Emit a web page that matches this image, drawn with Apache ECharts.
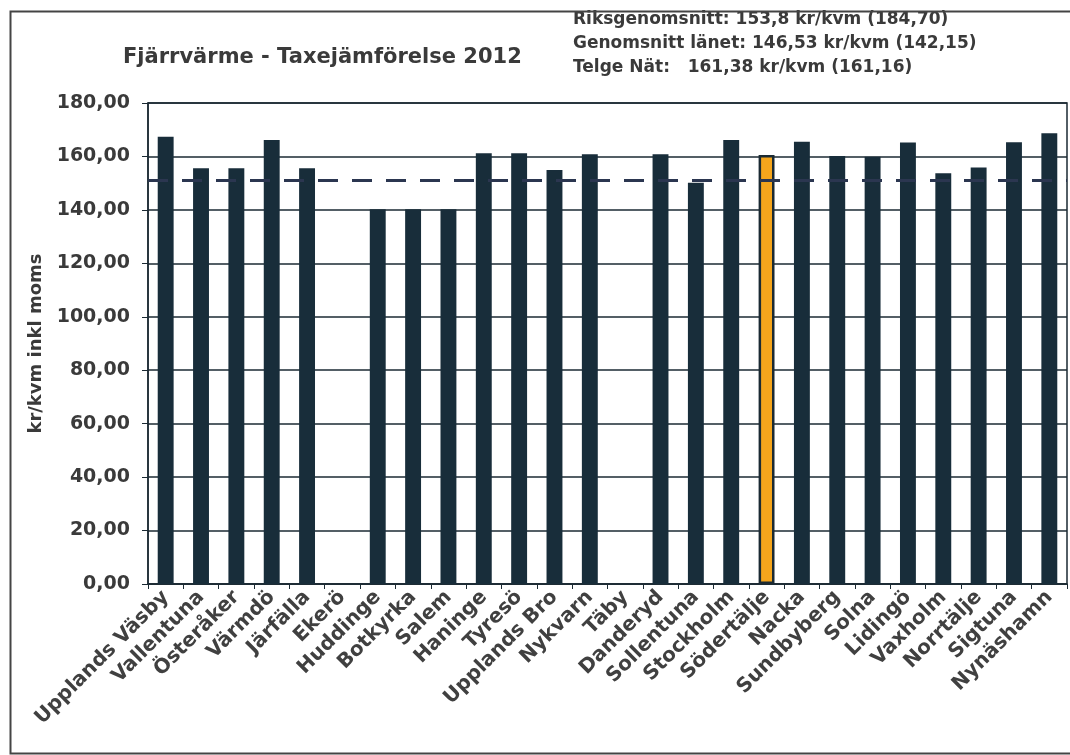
<!DOCTYPE html>
<html>
<head>
<meta charset="utf-8">
<script src="https://cdn.jsdelivr.net/npm/echarts@6/dist/echarts.min.js"></script>
<style>
  html, body { margin: 0; padding: 0; background: #fff; }
  #chart { width: 1070px; height: 755px; }
</style>
</head>
<body>
<div id="chart"></div>
<script>
// kommuner (x-axeln)
var kommuner = ['Upplands Väsby', 'Vallentuna', 'Österåker', 'Värmdö', 'Järfälla', 'Ekerö',
  'Huddinge', 'Botkyrka', 'Salem', 'Haninge', 'Tyresö', 'Upplands Bro', 'Nykvarn', 'Täby',
  'Danderyd', 'Sollentuna', 'Stockholm', 'Södertälje', 'Nacka', 'Sundbyberg', 'Solna',
  'Lidingö', 'Vaxholm', 'Norrtälje', 'Sigtuna', 'Nynäshamn'];
// kr/kvm inkl moms
var taxa = [167.4, 155.6, 155.6, 166.2, 155.6, 0,
  140.2, 140.2, 140.2, 161.2, 161.2, 154.9, 160.8, 0,
  160.8, 150.2, 166.2, 160.5, 165.5, 160.2, 159.9,
  165.2, 153.7, 155.9, 165.3, 168.7];
var markerad = 'Södertälje';
var snittlinje = 151;
var yTicks = [0, 180, 20]; // min, max, interval
var infoRader = [
  'Riksgenomsnitt: 153,8 kr/kvm (184,70)',
  'Genomsnitt länet: 146,53 kr/kvm (142,15)',
  'Telge Nät:   161,38 kr/kvm (161,16)'
];

var font = 'DejaVu Sans';
var myChart = echarts.init(document.getElementById('chart'));

var barData = taxa.map(function (v, i) {
  if (kommuner[i] === markerad) {
    return {
      value: v,
      itemStyle: { color: '#f5a51c', borderColor: '#1b2a33', borderWidth: 2.5 }
    };
  }
  return v;
});

var option = {
  backgroundColor: '#fff',
  animation: false,
  textStyle: { fontFamily: font },
  grid: {
    top: 103,
    bottom: 171,
    left: 148,
    right: 3,
    show: true,
    borderColor: '#1b2a33',
    borderWidth: 1.5
  },
  title: {
    text: 'Fjärrvärme - Taxejämförelse 2012',
    left: 118,
    top: 42,
    textStyle: { fontFamily: font, fontSize: 21, fontWeight: 'bold', color: '#3a3a3a' }
  },
  graphic: [
    {
      type: 'text',
      left: 573,
      top: 8,
      style: {
        text: infoRader.join('\n'),
        font: 'bold 17px "DejaVu Sans"',
        lineHeight: 24,
        fill: '#3a3a3a'
      }
    },
    {
      type: 'rect',
      left: 8,
      top: 9,
      shape: { width: 1075, height: 742 },
      style: { fill: 'none', stroke: '#444', lineWidth: 2 }
    }
  ],
  xAxis: {
    type: 'category',
    data: kommuner,
    axisLine: { lineStyle: { color: '#1b2a33', width: 1.5 } },
    axisTick: { show: true, length: 5, lineStyle: { color: '#1b2a33' } },
    axisLabel: {
      interval: 0,
      rotate: 45,
      margin: 10,
      color: '#404040',
      fontSize: 20,
      fontWeight: 'bold',
      fontFamily: font
    }
  },
  yAxis: {
    type: 'value',
    min: yTicks[0],
    max: yTicks[1],
    interval: yTicks[2],
    name: 'kr/kvm inkl moms',
    nameLocation: 'middle',
    nameGap: 102,
    nameTextStyle: { fontSize: 18, fontWeight: 'bold', color: '#3a3a3a', fontFamily: font },
    axisLine: { show: true, lineStyle: { color: '#1b2a33', width: 1.5 } },
    axisTick: { show: true, length: 6, lineStyle: { color: '#1b2a33' } },
    axisLabel: {
      color: '#3a3a3a',
      fontSize: 19,
      fontWeight: 'bold',
      margin: 18,
      fontFamily: font,
      formatter: function (v) { return v.toFixed(2).replace('.', ','); }
    },
    splitLine: { show: true, lineStyle: { color: '#1b2a33', width: 1.5 } }
  },
  series: [
    {
      type: 'bar',
      data: barData,
      barWidth: '45%',
      itemStyle: { color: '#182d3a' },
      markLine: {
        silent: true,
        symbol: 'none',
        label: { show: false },
        lineStyle: { color: '#2b3650', width: 3, type: [20, 14] },
        data: [{ yAxis: snittlinje }]
      }
    }
  ]
};

myChart.setOption(option);
</script>
</body>
</html>
